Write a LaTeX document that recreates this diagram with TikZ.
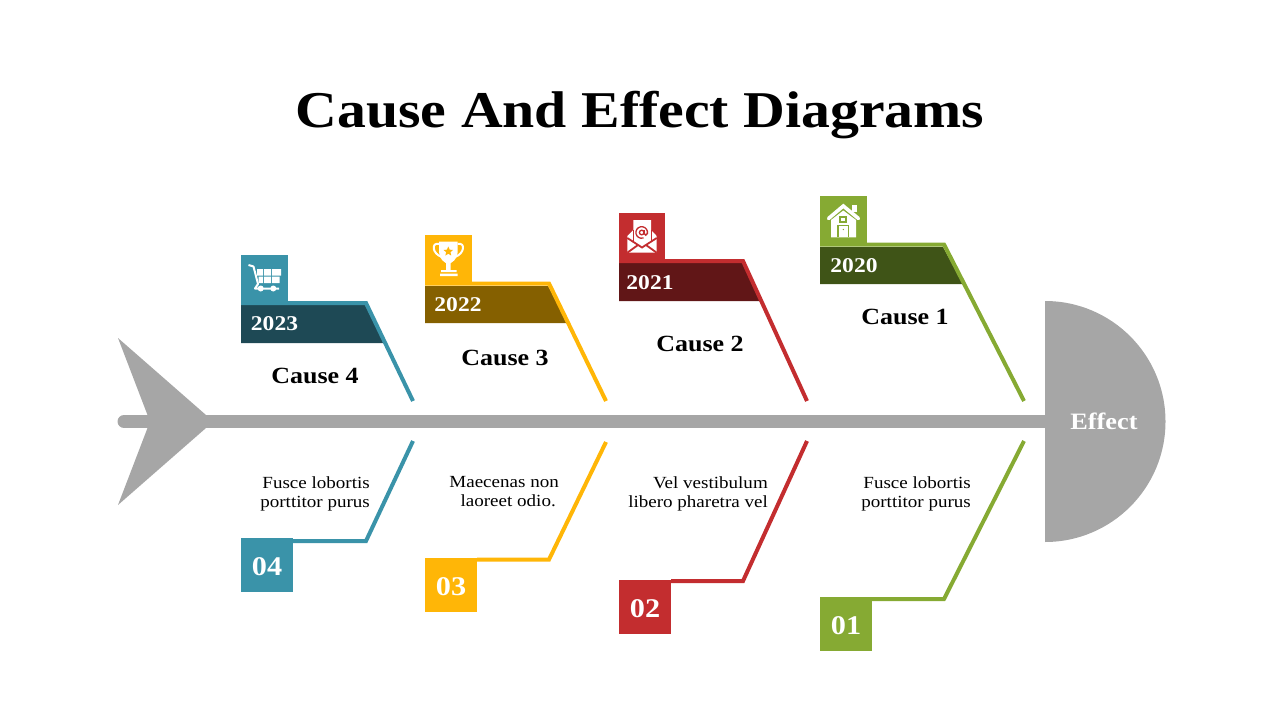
\documentclass[tikz,border=0pt]{standalone}
\usepackage{fontspec}
\usetikzlibrary{shapes.geometric}
\setmainfont[FakeStretch=1.12]{Liberation Serif}

\definecolor{spinegray}{HTML}{A6A6A6}
\definecolor{teal4}{HTML}{3A93A9}
\definecolor{teal4d}{HTML}{1E4955}
\definecolor{amber3}{HTML}{FFB607}
\definecolor{amber3d}{HTML}{856000}
\definecolor{red2}{HTML}{C32D2F}
\definecolor{red2d}{HTML}{611617}
\definecolor{green1}{HTML}{86AA33}
\definecolor{green1d}{HTML}{3F5417}

\tikzset{
  iconbox/.style={inner sep=0pt,minimum width=47pt,minimum height=47pt},
  numbox/.style={inner sep=0pt,minimum width=52pt,minimum height=54pt,text=white,text height=20pt,text depth=0pt,font=\fontsize{27}{30}\selectfont\bfseries},
  bone/.style={line width=4pt,miter limit=10},
  yearlabel/.style={text=white,inner sep=0pt,text height=16pt,text depth=0pt,font=\fontsize{21}{24}\selectfont\bfseries},
  causelabel/.style={inner sep=0pt,font=\fontsize{23.2}{26}\selectfont\bfseries},
  note/.style={inner sep=0pt,align=right,font=\fontsize{17}{19.5}\selectfont},
}

\begin{document}
\begin{tikzpicture}[x=1pt,y=-1pt]
\useasboundingbox (0,0) rectangle (1280,720);

\node[inner sep=0pt,font=\fontsize{51.6}{54}\selectfont\bfseries] (title) at (640,115) {Cause And Effect Diagrams};

% spine, tail and head
\coordinate (tailend) at (124,421.5);
\coordinate (headstart) at (1045,421.5);
\draw[spinegray,line width=13pt,line cap=round] (tailend) -- (headstart);
\fill[spinegray] (118,338) -- (206,415) -- (206,428) -- (118,505) -- (150,421.5) -- cycle;
\fill[spinegray] (1045,301) arc[start angle=90,end angle=-90,radius=120.5pt] -- cycle;
\node[text=white,inner sep=0pt,font=\fontsize{23.5}{26}\selectfont\bfseries] (effect) at (1104,421) {Effect};

% cause 4
\fill[teal4d] (241,305) -- (365,305) -- (384,343) -- (241,343) -- cycle;
\node[iconbox,fill=teal4] (icon4) at (264.5,278.5) {};
\coordinate (up4a) at (241,303);
\coordinate (up4b) at (366,303);
\coordinate (up4c) at (413,401);
\draw[bone,teal4] (up4a) -- (up4b) -- (up4c);
\node[yearlabel] (year4) at (274.5,322) {2023};
\node[causelabel] (cause4) at (315,376) {Cause 4};
\node[note,anchor=north east] (note4) at (370,476) {Fusce lobortis\\porttitor purus};
\node[numbox,fill=teal4] (num4) at (267,565) {04};
\coordinate (low4a) at (413,441);
\coordinate (low4b) at (366,541);
\draw[bone,teal4] (low4a) -- (low4b) -- (num4.north east |- low4b);

% cart
\draw[white,line width=2pt,line join=round] (248.5,265) -- (253.5,266.5) -- (258,284) -- (255,288.5) -- (279,288.5);
\fill[white] (257,269) rectangle (263,275.5) (264,269) rectangle (271,275.5) (272,269) rectangle (281,275.5);
\fill[white] (258.5,276.5) rectangle (263,283) (264,276.5) rectangle (271,283) (272,276.5) rectangle (279.5,283);
\fill[white] (260.7,288.5) circle (3pt) (273.3,288.5) circle (3pt);

% cause 3
\fill[amber3d] (425,286) -- (548,286) -- (568,323) -- (425,323) -- cycle;
\node[iconbox,fill=amber3] (icon3) at (448.5,258.5) {};
\coordinate (up3a) at (425,283.5);
\coordinate (up3b) at (549,283.5);
\coordinate (up3c) at (606,401);
\draw[bone,amber3] (up3a) -- (up3b) -- (up3c);
\node[yearlabel] (year3) at (458,303) {2022};
\node[causelabel] (cause3) at (505,358) {Cause 3};
\node[note,anchor=north east] (note3) at (559,476) {Maecenas non\\laoreet odio.\kern3pt};
\node[numbox,fill=amber3] (num3) at (451,585) {03};
\coordinate (low3a) at (606,442);
\coordinate (low3b) at (549,559.5);
\draw[bone,amber3] (low3a) -- (low3b) -- (num3.north east |- low3b);

% trophy
\fill[white] (439,241.7) -- (457.7,241.7) -- (457.7,252) .. controls (457.7,259) and (452,263) .. (448.3,264) .. controls (444.7,263) and (439,259) .. (439,252) -- cycle;
\draw[white,line width=2pt] (439,244) .. controls (431,242) and (432,254) .. (442,257);
\draw[white,line width=2pt] (457.7,244) .. controls (465.7,242) and (464.7,254) .. (454.7,257);
\fill[white] (446,263) rectangle (450.7,270) (441,270) rectangle (456.7,272) (440,273.5) rectangle (457.5,276);
\node[star,star points=5,star point ratio=2.2,fill=amber3,inner sep=0pt,minimum size=10pt] (trophystar) at (448.3,251.5) {};

% cause 2
\fill[red2d] (619,263) -- (743,263) -- (762,301) -- (619,301) -- cycle;
\node[iconbox,fill=red2,minimum width=46pt] (icon2) at (642,236.5) {};
\coordinate (up2a) at (619,261);
\coordinate (up2b) at (743,261);
\coordinate (up2c) at (807,401);
\draw[bone,red2] (up2a) -- (up2b) -- (up2c);
\node[yearlabel] (year2) at (650,281) {2021};
\node[causelabel] (cause2) at (700,344) {Cause 2};
\node[note,anchor=north east] (note2) at (768,476) {Vel vestibulum\\libero pharetra vel};
\node[numbox,fill=red2] (num2) at (645,607) {02};
\coordinate (low2a) at (807,441);
\coordinate (low2b) at (743,581);
\draw[bone,red2] (low2a) -- (low2b) -- (num2.north east |- low2b);

% envelope
\fill[white] (627.3,236) -- (633.3,230) -- (633.3,220) -- (651,220) -- (651,230) -- (656.7,236) -- (656.7,252.7) -- (627.3,252.7) -- cycle;
\draw[red2,line width=1pt] (633.3,230) -- (633.3,241) (651,230) -- (651,241);
\draw[red2,line width=1.8pt] (627.3,238) -- (642,247.5) -- (656.7,238) (627.3,252.7) -- (638,245) (656.7,252.7) -- (646,245);
\draw[red2,line width=1.3pt] (641.7,232.5) circle (2.3pt);
\draw[red2,line width=1.3pt] (644.1,230) -- (644.1,233.5) arc[start angle=180,end angle=360,radius=1.65pt] arc[start angle=-10,end angle=290,radius=5.8pt];

% cause 1
\fill[green1d] (820,247) -- (943,247) -- (963,284) -- (820,284) -- cycle;
\node[iconbox,fill=green1] (icon1) at (843.5,219.5) {};
\coordinate (up1a) at (820,244.5);
\coordinate (up1b) at (944,244.5);
\coordinate (up1c) at (1024,401);
\draw[bone,green1] (up1a) -- (up1b) -- (up1c);
\node[yearlabel] (year1) at (854,264) {2020};
\node[causelabel] (cause1) at (905,317) {Cause 1};
\node[note,anchor=north east] (note1) at (971,476) {Fusce lobortis\\porttitor purus};
\node[numbox,fill=green1] (num1) at (846,624) {01};
\coordinate (low1a) at (1024,441);
\coordinate (low1b) at (944,599);
\draw[bone,green1] (low1a) -- (low1b) -- (num1.north east |- low1b);

% house
\fill[white] (851.7,205) rectangle (856.7,212);
\draw[green1,line width=1pt] (851.7,212.5) -- (856.7,216.5);
\fill[white] (831,220) -- (843.3,210.5) -- (856,220) -- (856,237.3) -- (831,237.3) -- cycle;
\draw[white,line width=3.6pt,line cap=round] (828.5,218.5) -- (843.3,206) -- (858.5,218.5);
\draw[green1,line width=1.6pt] (840,216.8) rectangle (846,222);
\draw[green1,line width=1.4pt] (838,237.3) -- (838,225.7) -- (848.6,225.7) -- (848.6,237.3);
\fill[green1] (843.3,229.5) circle (0.7pt);

\end{tikzpicture}
\end{document}
